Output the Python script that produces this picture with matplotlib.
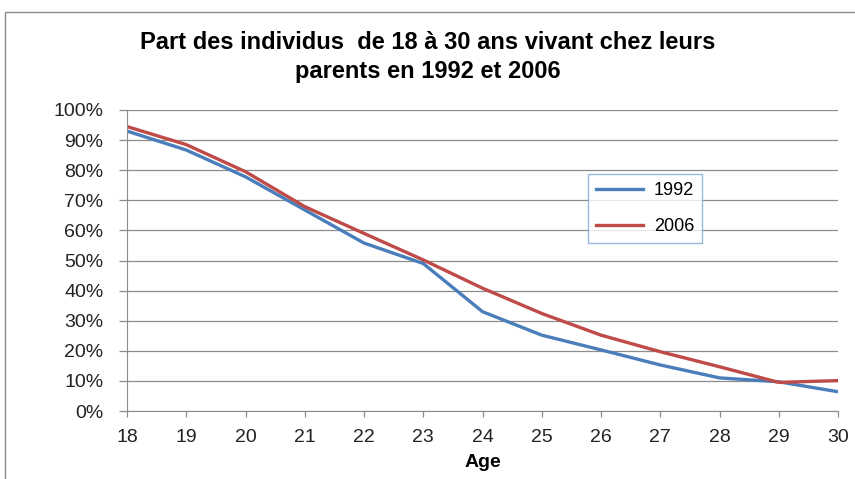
import matplotlib
matplotlib.use("Agg")
import matplotlib.pyplot as plt
from matplotlib.patches import Rectangle
from matplotlib.ticker import FuncFormatter, MultipleLocator

ages = [18, 19, 20, 21, 22, 23, 24, 25, 26, 27, 28, 29, 30]
part_1992 = [93.0, 86.7, 77.8, 66.8, 55.8, 49.0, 33.0, 25.2, 20.3, 15.3, 11.0, 9.7, 6.4]
part_2006 = [94.5, 88.5, 79.5, 67.9, 59.0, 50.2, 40.8, 32.4, 25.2, 19.7, 14.7, 9.5, 10.1]
series_labels = ["1992", "2006"]

plt.rcParams['font.family'] = ['Liberation Sans', 'DejaVu Sans']

fig = plt.figure(figsize=(8.55, 4.79), dpi=100)
fig.patches.append(Rectangle((5 / 855, -0.1), 1.2, 1 - 12 / 479 + 0.1,
                             transform=fig.transFigure, fill=False,
                             edgecolor='#8c8c8c', linewidth=1.0))

ax = fig.add_axes([127 / 855, 1 - 411 / 479, (838 - 127) / 855, (411 - 110) / 479])
ax.plot(ages, part_1992, color='#4a7ebb', linewidth=2.4, label=series_labels[0])
ax.plot(ages, part_2006, color='#be4b48', linewidth=2.4, label=series_labels[1])

ax.set_xlim(18, 30)
ax.set_ylim(0, 100)
ax.xaxis.set_major_locator(MultipleLocator(1))
ax.yaxis.set_major_locator(MultipleLocator(10))
ax.yaxis.set_major_formatter(FuncFormatter(lambda v, p: '%d%%' % v))
ax.grid(axis='y', color='#8c8c8c', linewidth=0.9)
ax.set_axisbelow(True)
for s in ['top', 'right']:
    ax.spines[s].set_visible(False)
for s in ['left', 'bottom']:
    ax.spines[s].set_color('#8c8c8c')
ax.tick_params(axis='both', colors='#8c8c8c', labelcolor='#222222', labelsize=14,
               width=0.9)
ax.tick_params(axis='y', length=6, pad=11)
ax.tick_params(axis='x', length=4, pad=9)
ax.set_xlabel('Age', fontsize=14, fontweight='bold', labelpad=6)

fig.text(0.5, 1 - 57 / 479, 'Part des individus  de 18 à 30 ans vivant chez leurs\nparents en 1992 et 2006',
         ha='center', va='center', fontsize=17, fontweight='bold', linespacing=1.3)

leg = ax.legend(loc='upper left', bbox_to_anchor=((588 - 127) / 711, 1 - (174 - 110) / 301),
                frameon=True, fancybox=False, fontsize=13, handlelength=2.6,
                borderpad=0.45, labelspacing=1.05, borderaxespad=0, handletextpad=0.6)
leg.get_frame().set_edgecolor('#7fa6d6')
leg.get_frame().set_linewidth(1.0)

fig.savefig('out.png', dpi=100)
